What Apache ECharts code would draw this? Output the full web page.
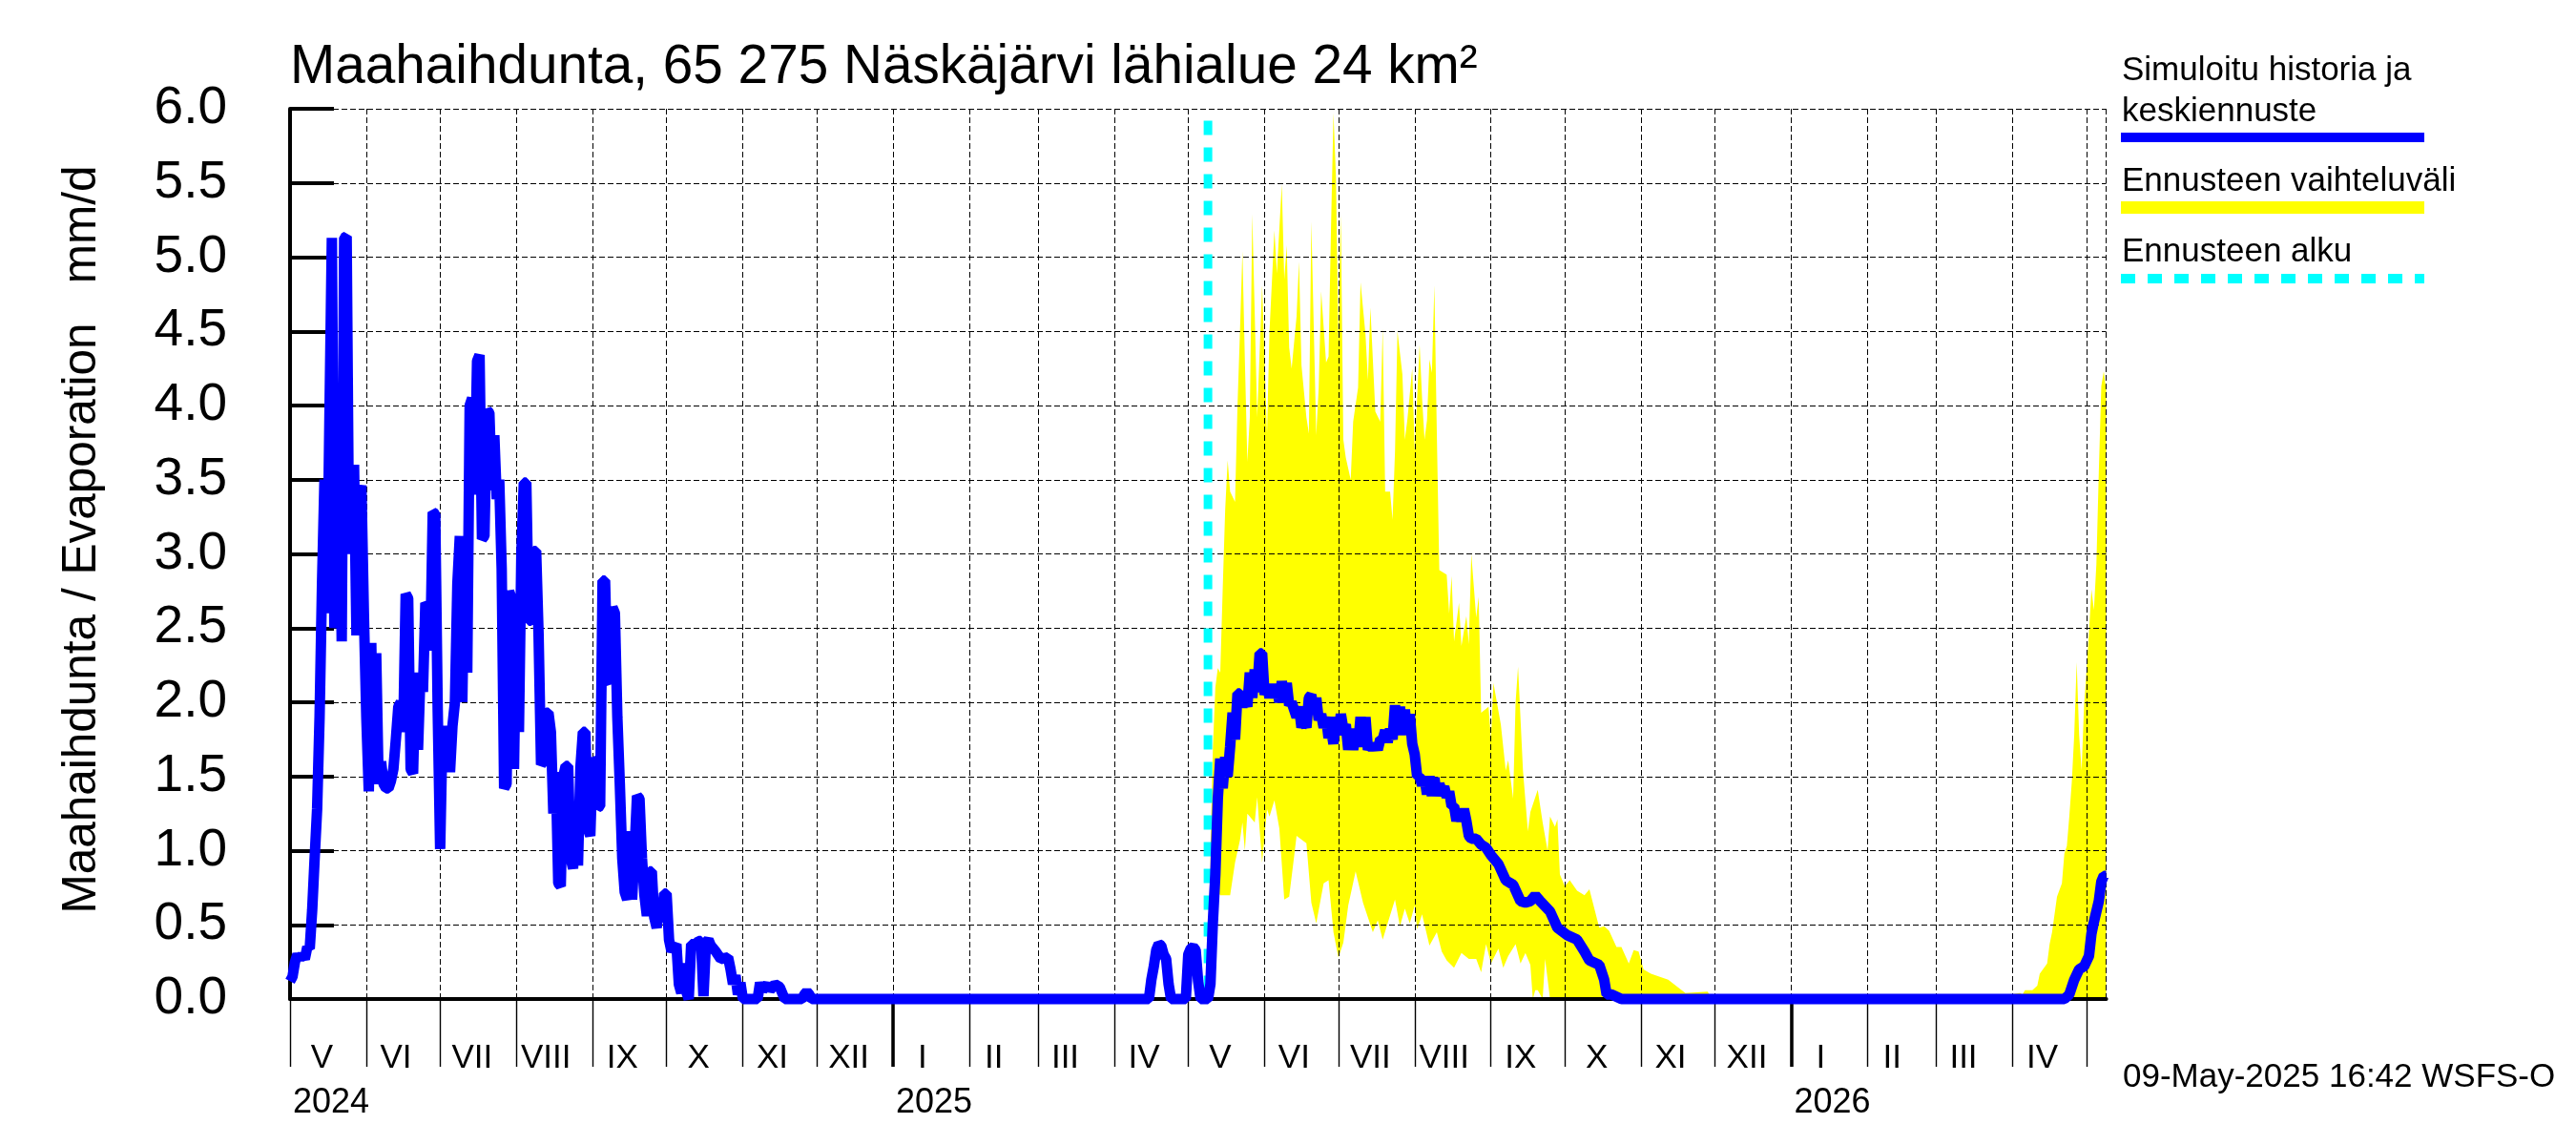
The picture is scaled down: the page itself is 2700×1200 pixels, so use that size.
<!DOCTYPE html>
<html>
<head>
<meta charset="utf-8">
<style>html,body{margin:0;padding:0;background:#fff}#c{width:2700px;height:1200px}</style>
<script src="https://cdn.jsdelivr.net/npm/echarts@6/dist/echarts.min.js"></script>
</head>
<body>
<div id="c"></div>
<script>
const titleText = 'Maahaihdunta, 65 275 Näskäjärvi lähialue 24 km²';
const yAxisTitle = 'Maahaihdunta / Evaporation   mm/d';
const stampText = '09-May-2025 16:42 WSFS-O';
const legendLabels = ['Simuloitu historia ja', 'keskiennuste', 'Ennusteen vaihteluväli', 'Ennusteen alku'];
// x values are days counted from 2024-05-01
const endDay = 738;
const forecastStartDay = 373;
const cyanTop = 5.92;
const monthStartDays = [0,31,61,92,123,153,184,214,245,276,304,335,365,396,426,457,488,518,549,579,610,641,669,700,730];
const monthNames = ['V','VI','VII','VIII','IX','X','XI','XII','I','II','III','IV','V','VI','VII','VIII','IX','X','XI','XII','I','II','III','IV'];
const monthLabelOffsets = [13,12,13,12,12,13,12,13,12,10,11,12,13,12,13,12,12,13,12,13,12,10,11,12];
const yearDays = [0,245,610];
const yearLabels = ['2024','2025','2026'];

const histDays = [0,1,2,3,4,5,6,7,8,9,10,11,12,13,14,15,16,17,18,19,20,21,22,23,24,25,26,27,28,29,
30,31,32,33,34,35,36,37,38,39,40,41,42,43,44,45,46,47,48,49,50,51,52,53,54,55,56,57,58,59,
60,61,62,63,64,65,66,67,68,69,70,71,72,73,74,75,76,77,78,79,80,81,82,83,84,85,86,87,88,89,
90,91,92,93,94,95,96,97,98,99,100,101,102,103,104,105,106,107,108,109,110,111,112,113,114,115,116,117,118,119,
120,121,122,123,124,125,126,127,128,129,130,131,132,133,134,135,136,137,138,139,140,141,142,143,144,145,146,147,148,149,
150,151,152,153,154,155,156,157,158,159,160,161,162,163,164,165,166,167,168,169,170,171,173,175,178,179,180,181,182,183,184,190,191,192,194,195,197,199,201,208,209,210,211,212,
349,350,351,352,353,354,355,356,357,358,364,365,366,367,368,369,370,373,374,375,376,377,378,379,
380,381,382,383,384,385,386,387,388,389,390,391,392,393,394,395,396,397,398,399,400,401,402,403,404,405,406,407,408,409,
410,411,412,413,414,415,416,417,418,419,420,421,422,423,424,425,426,427,428,429,430,431,432,433,434,435,436,437,438,439,
440,441,442,443,444,445,446,447,448,449,450,451,452,453,454,455,456,457,458,459,460,461,462,463,464,465,466,467,468,469,
470,471,472,473,474,475,476,477,478,479,480,482,484,486,488,491,494,497,500,502,504,506,508,512,515,519,523,526,528,532,534,535,537,541,721,723,725,727,729,731,732,733,735,736,737,738];
const histValues = [.12,.15,.25,.3,.27,.3,.27,.35,.34,.6,.95,1.28,1.9,2.8,3.5,2.6,3.9,5.13,2.5,3,3.8,2.41,5.13,5.14,3,3.3,3.6,2.45,3.4,3.46,
2.6,1.9,1.4,2.4,1.45,2.33,1.45,1.6,1.45,1.42,1.42,1.47,1.55,1.75,1.97,2,1.8,2.73,2.7,1.55,1.52,2.2,1.68,2.2,2.07,2.67,2.65,2.35,3.28,3.27,
1.95,1.01,1.84,1.55,1.84,1.53,1.84,2,2.8,3.12,2,3.12,2.2,4,4.05,3.4,4.3,4.34,3.1,3.12,3.97,3.95,3.43,3.8,3.37,3.5,2.9,1.42,1.45,2.75,
2.7,1.55,2.67,1.8,3,3.48,3.48,2.55,2.55,3.02,3.02,2.45,1.58,1.6,1.93,1.93,1.8,1.25,1.53,.78,.76,1.5,1.57,1.57,.95,.88,1.26,.9,1.56,1.8,
1.8,1.15,1.1,1.62,1.6,1.29,1.3,2.82,2.82,2.15,2.13,2.64,2.6,1.9,1.45,.95,.72,.67,1.13,.67,1,1.37,1.35,.95,.7,.56,.86,.86,.55,.48,
.66,.52,.71,.71,.4,.32,.35,.37,.1,.04,.24,.05,0,.37,.37,.37,.39,.39,.02,.38,.4,.36,.32,.27,.28,.2,.1,.16,.03,.11,0,0,.11,.06,.1,.06,.1,.08,0,0,.03,.05,.03,0,
0,.13,.22,.33,.37,.36,.3,.27,.1,0,0,.3,.34,.35,.33,.12,0,0,.1,.52,.84,1.35,1.62,1.42,
1.63,1.5,1.7,1.93,1.75,2.06,2.06,1.97,2.03,1.97,2.2,2.03,2.22,2.07,2.33,2.33,2.05,2.12,2.03,2.12,2.03,2.11,2,2.14,2.05,2.13,1.98,2,1.95,1.9,
1.97,1.83,1.88,1.83,2.03,2.05,1.92,2.03,1.88,1.92,1.83,1.9,1.76,1.82,1.72,1.9,1.78,1.92,1.82,1.85,1.68,1.82,1.68,1.8,1.7,1.9,1.7,1.9,1.68,1.72,
1.68,1.72,1.68,1.75,1.75,1.81,1.73,1.82,1.75,1.98,1.78,1.97,1.78,1.95,1.78,1.92,1.72,1.65,1.5,1.5,1.44,1.49,1.38,1.5,1.37,1.49,1.37,1.45,1.4,1.43,
1.36,1.4,1.3,1.3,1.2,1.26,1.2,1.28,1.2,1.1,1.08,1.08,1.04,1.02,.97,.91,.8,.77,.66,.65,.66,.7,.66,.59,.48,.43,.4,.32,.26,.23,.13,.03,.03,0,0,.03,.13,.2,.22,.29,.44,.52,.66,.79,.83,.83];

const upperDays = [374,375,376,377,378,379,380,381,382,384,385,386,387,388,389,390,391,392,393,395,396,397,398,400,401,403,404,405,406,407,409,410,411,413,414,415,417,418,419,421,422,423,424,425,426,427,428,429,431,432,434,435,437,438,439,441,443,444,445,447,448,449,450,452,453,454,456,457,459,460,461,462,463,464,465,466,467,470,471,472,473,475,476,478,479,480,482,483,484,487,488,489,492,494,495,497,498,499,501,503,504,507,509,511,512,514,515,516,518,520,523,526,528,532,534,536,539,541,544,546,548,550,553,560,567,576,578,698,699,703,704,705,708,710,711,714,715,716,718,720,721,722,723,724,725,726,727,728,729,730,731,732,733,734,735,736,737,738];
const upperValues = [1,1.69,2.1,2.23,2.2,2.77,3.3,3.63,3.42,3.35,4,4.5,5.04,4.3,3.62,3.92,5.29,4.62,3.92,4.81,4.31,3.81,4.5,5.18,4.89,5.49,4.85,5.08,4.39,4.25,4.6,4.97,4.27,3.92,3.81,5.24,3.8,4.12,4.77,4.29,4.33,5.2,5.97,5.54,4.43,5.29,3.77,3.65,3.5,3.89,4.12,4.83,4.48,4.17,4.66,3.96,3.89,4.52,3.42,3.42,3.23,3.69,4.5,4.21,3.77,3.9,4.25,3.69,4.41,4.05,3.77,3.9,4.31,4.22,4.81,3.81,2.89,2.86,2.6,2.85,2.41,2.67,2.38,2.58,2.39,3,2.57,2.71,1.93,1.97,1.75,2.13,1.85,1.54,1.61,1.35,2,2.24,1.54,1.13,1.26,1.41,1.19,1,1.23,1.16,1.21,.84,.76,.8,.73,.7,.74,.48,.49,.46,.35,.35,.24,.33,.32,.2,.17,.13,.04,.05,0,0,.03,.04,.03,.06,.06,.09,.17,.24,.37,.45,.69,.78,.98,1.03,1.23,1.46,1.78,2.27,1.78,1.54,1.98,2.21,2.47,2.76,2.62,2.93,3.56,4.13,4.23,4.1,3.73];
const lowerDays = [374,375,376,377,378,381,382,384,386,387,388,389,392,393,395,397,398,400,402,404,406,408,409,413,415,417,420,422,424,426,428,430,433,436,438,440,442,444,446,449,451,453,455,457,458,460,463,466,468,470,473,476,479,482,484,486,488,491,493,495,498,500,502,504,505,506,507,509,510,512,738];
const lowerValues = [.3,.4,.6,.72,.7,.7,.7,.92,1.07,1.19,1,1.25,1.19,1.36,.92,1.28,1.23,1.34,1.15,.67,.69,.96,1.1,1.05,.65,.51,.78,.8,.45,.28,.38,.63,.86,.65,.55,.45,.53,.4,.51,.67,.49,.61,.51,.63,.47,.57,.36,.45,.32,.26,.21,.31,.27,.27,.18,.37,.24,.34,.21,.29,.37,.24,.31,.23,0,.06,.06,0,.27,0,0];

const FONT = 'Liberation Sans';
const histData = histDays.map((d, i) => [d, histValues[i]]);
const bandData = upperDays.map((d, i) => [d, upperValues[i]])
  .concat(lowerDays.map((d, i) => [d, lowerValues[i]]).reverse());
const labelDays = monthNames.map((n, i) => monthStartDays[i] + monthLabelOffsets[i]);
const labelNameByDay = new Map(labelDays.map((d, i) => [d, monthNames[i]]));
const yearNameByDay = new Map(yearDays.map((d, i) => [d, yearLabels[i]]));

const gridDash = {color: '#000', width: 1, type: [6, 3]};
const baseX = {type: 'value', position: 'bottom', min: 0, max: endDay, z: 3};

const chart = echarts.init(document.getElementById('c'), null, {renderer: 'canvas'});
chart.setOption({
  animation: false,
  backgroundColor: '#fff',
  title: {text: titleText, left: 304, top: 43, padding: 0,
    textStyle: {fontFamily: FONT, fontSize: 56.7, fontWeight: 'normal', color: '#000'}},
  grid: {left: 304, top: 114, width: 1903.6, height: 933, containLabel: false},
  xAxis: [
    Object.assign({}, baseX, {
      axisLine: {show: true, onZero: false, lineStyle: {color: '#000', width: 4}},
      axisTick: {show: true, customValues: monthStartDays, length: 71, lineStyle: {color: '#000', width: 1.4}},
      axisLabel: {show: true, customValues: labelDays, margin: 45, hideOverlap: false,
        showMinLabel: true, showMaxLabel: true, align: 'center', fontFamily: FONT, fontSize: 35, color: '#000',
        formatter: v => labelNameByDay.get(v) || ''},
      splitLine: {show: true, lineStyle: gridDash}
    }),
    Object.assign({}, baseX, {
      axisLine: {show: false},
      axisTick: {show: true, customValues: yearDays.slice(1), length: 71, lineStyle: {color: '#000', width: 3.5}},
      axisLabel: {show: true, customValues: yearDays, margin: 91, hideOverlap: false,
        showMinLabel: true, showMaxLabel: true, align: 'left', padding: [0, 0, 0, 3], fontFamily: FONT, fontSize: 36, color: '#000',
        formatter: v => yearNameByDay.get(v) || ''},
      splitLine: {show: false}
    }),
    Object.assign({}, baseX, {
      axisLine: {show: false},
      axisTick: {show: false, customValues: [endDay]},
      axisLabel: {show: false},
      splitLine: {show: true, lineStyle: gridDash}
    })
  ],
  yAxis: {
    type: 'value', min: 0, max: 6, interval: 0.5, z: 3,
    name: yAxisTitle, nameLocation: 'middle', nameRotate: 90, nameGap: 193,
    nameTextStyle: {fontFamily: FONT, fontSize: 49.5, color: '#000', padding: [0, 0, 0, 30]},
    axisLine: {show: true, onZero: false, lineStyle: {color: '#000', width: 4}},
    axisTick: {show: true, inside: true, length: 46, lineStyle: {color: '#000', width: 4}},
    axisLabel: {margin: 66, fontFamily: FONT, fontSize: 55, color: '#000', formatter: v => v.toFixed(1)},
    splitLine: {show: true, lineStyle: gridDash}
  },
  series: [
    {
      type: 'custom', name: legendLabels[2], z: 1, silent: true, coordinateSystem: 'cartesian2d',
      data: bandData, encode: {x: 0, y: 1},
      renderItem: (params, api) => {
        if (params.dataIndex !== 0) return null;
        const pts = bandData.map(p => api.coord(p));
        return {type: 'polygon', shape: {points: pts}, style: {fill: '#ffff00', stroke: null}};
      }
    },
    {
      type: 'line', name: legendLabels[3], z: 5, silent: true, showSymbol: false, clip: false,
      data: [[forecastStartDay, cyanTop], [forecastStartDay, 0]],
      lineStyle: {color: '#00ffff', width: 9, type: [15, 13], cap: 'butt'}
    },
    {
      type: 'line', name: legendLabels[0] + ' ' + legendLabels[1], z: 6, silent: true, showSymbol: false, clip: false,
      data: histData,
      lineStyle: {color: '#0000ff', width: 11, cap: 'butt', join: 'bevel'}
    }
  ],
  graphic: [
    {type: 'text', left: 2224, top: 57, style: {text: legendLabels[0], font: '35px "' + FONT + '"', fill: '#000'}},
    {type: 'text', left: 2224, top: 100, style: {text: legendLabels[1], font: '35px "' + FONT + '"', fill: '#000'}},
    {type: 'rect', shape: {x: 2223, y: 139, width: 318, height: 10}, style: {fill: '#0000ff'}},
    {type: 'text', left: 2224, top: 173, style: {text: legendLabels[2], font: '35px "' + FONT + '"', fill: '#000'}},
    {type: 'rect', shape: {x: 2223, y: 211, width: 318, height: 13}, style: {fill: '#ffff00'}},
    {type: 'text', left: 2224, top: 247, style: {text: legendLabels[3], font: '35px "' + FONT + '"', fill: '#000'}},
    {type: 'line', shape: {x1: 2223, y1: 292, x2: 2541, y2: 292}, style: {stroke: '#00ffff', lineWidth: 10, lineDash: [15, 13]}},
    {type: 'text', left: 2225, top: 1112, style: {text: stampText, font: '35px "' + FONT + '"', fill: '#000'}}
  ]
});
</script>
</body>
</html>
